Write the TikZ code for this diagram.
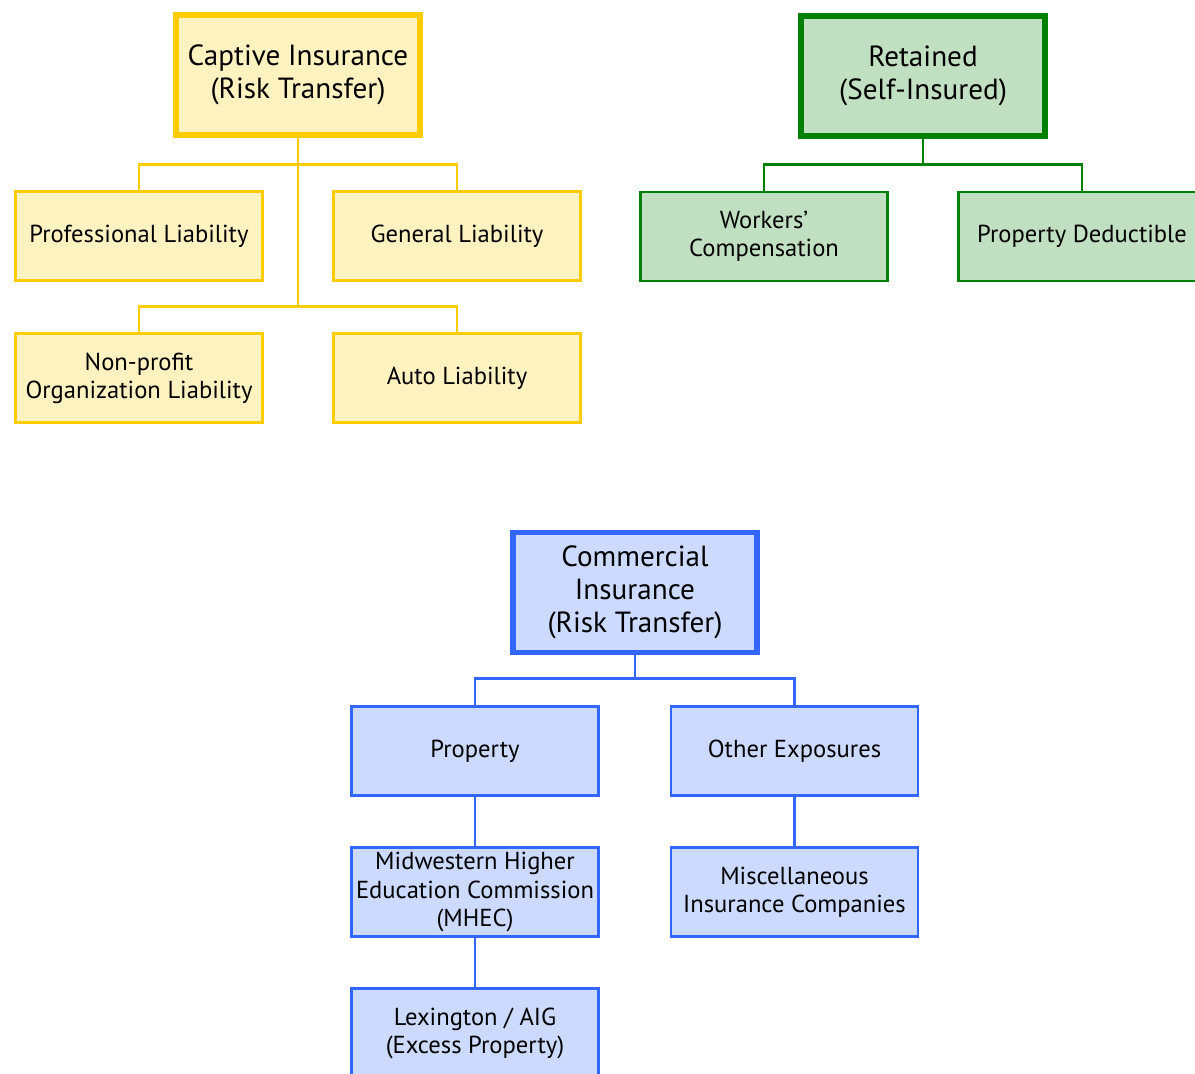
\documentclass[tikz,border=0pt]{standalone}
\usepackage{fontspec}
\setmainfont{PT Sans}
\usepackage{tikz}
\usetikzlibrary{calc}
\definecolor{capline}{HTML}{FFCC00}
\definecolor{capfill}{HTML}{FFF2C1}
\definecolor{retline}{HTML}{008000}
\definecolor{retfill}{HTML}{C1DFC1}
\definecolor{comline}{HTML}{3366FF}
\definecolor{comfill}{HTML}{CCDAFF}
\tikzset{
	topbox/.style={draw, line width=3.2pt, minimum width=4.88cm, minimum height=2.4cm, align=center, font=\fontsize{16.6}{18.8}\selectfont, inner sep=0pt},
	subbox/.style={draw, line width=1.6pt, minimum width=4.94cm, minimum height=1.78cm, align=center, font=\fontsize{14}{16}\selectfont, inner sep=0pt},
	capbox/.style={draw=capline, fill=capfill},
	retbox/.style={draw=retline, fill=retfill},
	combox/.style={draw=comline, fill=comfill},
}
\begin{document}
\begin{tikzpicture}[x=0.02cm, y=-0.02cm]
		%%%%% START %%%%%
		\useasboundingbox (0, 0) rectangle (1195, 1073);
		
		% captive
		\node[topbox, capbox] (captive) at (298, 75) {Captive Insurance\\(Risk Transfer)};
		\node[subbox, capbox] (profliab) at (139, 236) {Professional Liability};
		\node[subbox, capbox] (genliab) at (457, 236) {General Liability};
		\node[subbox, capbox] (nonprofit) at (139, 378) {Non-profit\\Organization Liability};
		\node[subbox, capbox] (autoliab) at (457, 378) {Auto Liability};
		
		\coordinate (capjoin) at ($(nonprofit.north) + (0, -26)$);
		\draw[line width=1.6pt, color=capline] (captive.south) -- (capjoin -| captive.south);
		\draw[line width=1.6pt, color=capline] (profliab.north) -- ++(0, -26) -| (genliab.north);
		\draw[line width=1.6pt, color=capline] (nonprofit.north) -- (capjoin) -| (autoliab.north);
		
		% retained
		\node[topbox, retbox, line width=3.8pt] (retained) at (923, 76) {Retained\\(Self-Insured)};
		\node[subbox, retbox] (workers) at (764, 236.5) {Workers'\\Compensation};
		\node[subbox, retbox] (propded) at (1082, 236.5) {Property Deductible};
		
		\draw[line width=1.6pt, color=retline] (retained.south) -- ++(0, 26);
		\draw[line width=1.6pt, color=retline] (workers.north) -- ++(0, -26) -| (propded.north);
		
		% commercial
		\node[topbox, combox] (commercial) at (635, 592.5) {Commercial\\Insurance\\(Risk Transfer)};
		\node[subbox, combox] (property) at (475, 751) {Property};
		\node[subbox, combox] (otherexp) at (794.5, 751) {Other Exposures};
		\node[subbox, combox] (mhec) at (475, 892) {Midwestern Higher\\Education Commission\\(MHEC)};
		\node[subbox, combox] (misc) at (794.5, 892) {Miscellaneous\\Insurance Companies};
		\node[subbox, combox] (lexington) at (475, 1033) {Lexington / AIG\\(Excess Property)};
		
		\draw[line width=1.6pt, color=comline] (commercial.south) -- ++(0, 24);
		\draw[line width=1.6pt, color=comline] (property.north) -- ++(0, -27) -| (otherexp.north);
		\draw[line width=1.6pt, color=comline] (property) -- (mhec);
		\draw[line width=1.6pt, color=comline] (otherexp) -- (misc);
		\draw[line width=1.6pt, color=comline] (mhec) -- (lexington);
		
		%%%%% END %%%%%
	\end{tikzpicture}
\end{document}
